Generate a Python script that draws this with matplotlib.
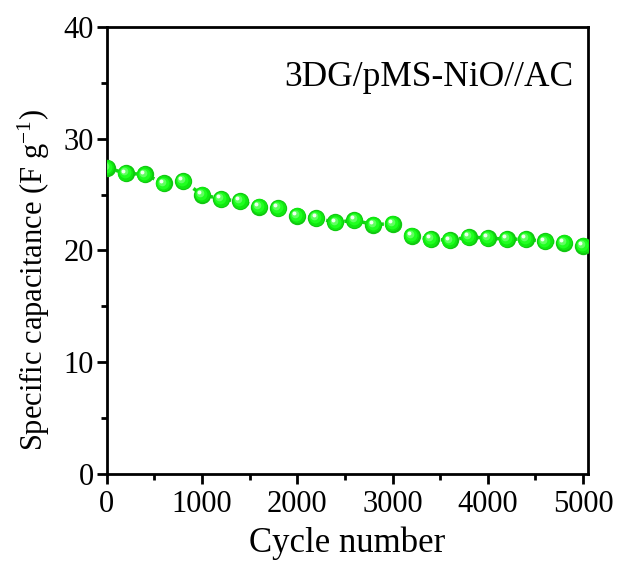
"""
Cycling stability of the 3DG/pMS-NiO//AC device:
specific capacitance vs cycle number.
"""
import numpy as np
import matplotlib
matplotlib.use('Agg')
import matplotlib.pyplot as plt
from matplotlib.ticker import MultipleLocator
from matplotlib.transforms import offset_copy

# data
cycles = np.arange(0, 5001, 200)
capacitance = [27.4, 26.9, 26.8, 26.0, 26.2, 25.0, 24.6, 24.4, 23.9, 23.8,
               23.1, 22.9, 22.5, 22.7, 22.3, 22.4, 21.3, 21.0, 20.9, 21.2,
               21.1, 21.0, 21.0, 20.8, 20.7, 20.4]
device_label = '3DG/pMS-NiO//AC'
x_ticks = [0, 1000, 2000, 3000, 4000, 5000]
y_ticks = [0, 10, 20, 30, 40]

plt.rcParams['font.family'] = ['Liberation Serif', 'DejaVu Serif']
plt.rcParams['mathtext.fontset'] = 'custom'
plt.rcParams['mathtext.rm'] = 'Liberation Serif'
plt.rcParams['mathtext.default'] = 'regular'

fig = plt.figure(figsize=(6.24, 5.62), dpi=100)
ax = fig.add_axes([0.171, 0.157, 0.771, 0.795])

# dotted connecting line
ax.plot(cycles, capacitance, linestyle=':', color='#10d810', lw=2.5, zorder=2)

# shaded spheres: darker rim, then brighter layers shifted up-left
ax.plot(cycles, capacitance, 'o', ms=12.5, color='#10c810', mec='none', zorder=3)
layers = [(11.0, '#10e810', -0.3, 0.3), (8.5, '#20ff20', -0.6, 0.6),
          (5.5, '#60ff60', -1.3, 1.3), (2.8, '#f0fff0', -2.0, 2.0)]
for size, col, dx, dy in layers:
    tr = offset_copy(ax.transData, fig=fig, x=dx, y=dy, units='points')
    ax.plot(cycles, capacitance, 'o', ms=size, color=col, mec='none',
            transform=tr, zorder=4)

ax.set_xlim(0, 5050)
ax.set_ylim(0, 40)
ax.set_xticks(x_ticks)
ax.set_yticks(y_ticks)
ax.xaxis.set_minor_locator(MultipleLocator(500))
ax.yaxis.set_minor_locator(MultipleLocator(5))

for side in ax.spines.values():
    side.set_linewidth(2)
ax.tick_params(which='major', direction='out', length=7, width=2,
               labelsize=22, top=False, right=False)
ax.tick_params(which='minor', direction='out', length=4, width=2,
               top=False, right=False)
ax.tick_params(axis='x', pad=5)
ax.tick_params(axis='y', pad=2)

ax.set_xlabel('Cycle number', fontsize=25, labelpad=5)
ax.set_ylabel('Specific capacitance (F g$^{-1}$)', fontsize=22)
ax.yaxis.set_label_coords(-0.113, 0.434)

ax.text(0.969, 0.868, device_label, transform=ax.transAxes,
        ha='right', va='baseline', fontsize=25.5)

fig.savefig('out.png', dpi=100)
